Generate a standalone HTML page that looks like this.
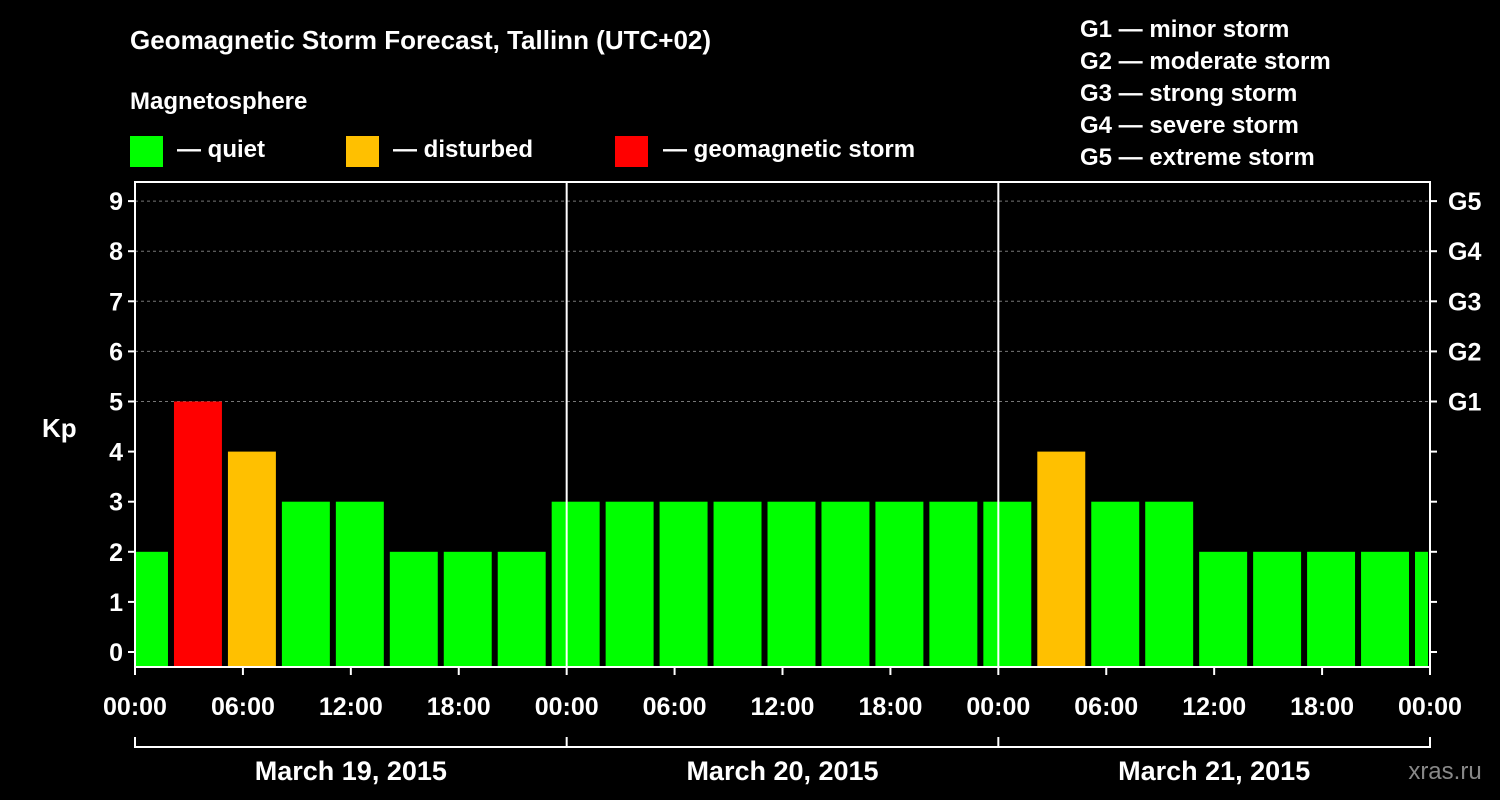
<!DOCTYPE html>
<html><head><meta charset="utf-8"><style>
html,body{margin:0;padding:0;background:#000;}
svg{display:block;font-family:"Liberation Sans",Arial,sans-serif;font-weight:bold;}
</style></head><body>
<svg id="chart" width="1500" height="800" viewBox="0 0 1500 800" xmlns="http://www.w3.org/2000/svg">
<rect width="1500" height="800" fill="#000"/>
<text x="130" y="49" fill="#fff" font-size="26">Geomagnetic Storm Forecast, Tallinn (UTC+02)</text>
<text x="130" y="109" fill="#fff" font-size="24">Magnetosphere</text>
<g><rect x="130" y="136" width="33" height="31" fill="#00ff00"/><text x="177" y="157" fill="#fff" font-size="24">— quiet</text></g>
<g><rect x="346" y="136" width="33" height="31" fill="#ffc000"/><text x="393" y="157" fill="#fff" font-size="24">— disturbed</text></g>
<g><rect x="615" y="136" width="33" height="31" fill="#ff0000"/><text x="663" y="157" fill="#fff" font-size="24">— geomagnetic storm</text></g>
<g fill="#fff" font-size="24">
<text x="1080" y="37">G1 — minor storm</text>
<text x="1080" y="69">G2 — moderate storm</text>
<text x="1080" y="101">G3 — strong storm</text>
<text x="1080" y="133">G4 — severe storm</text>
<text x="1080" y="165">G5 — extreme storm</text>
</g>
<g id="grid"></g>
<g id="bars"></g>
<g id="axes"></g>
<text x="42" y="437" fill="#fff" font-size="26">Kp</text>
<text x="1445" y="779" fill="#888" font-size="24" font-weight="normal" text-anchor="middle">xras.ru</text>
</svg>
<script>
const kpValues=[2,5,4,3,3,2,2,2,3,3,3,3,3,3,3,3,3,4,3,3,2,2,2,2,2];
const slotStartHours=[-1,2,5,8,11,14,17,20,23,26,29,32,35,38,41,44,47,50,53,56,59,62,65,68,71];
const xTickLabels=["00:00","06:00","12:00","18:00","00:00","06:00","12:00","18:00","00:00","06:00","12:00","18:00","00:00"];
const yTickLabels=["0","1","2","3","4","5","6","7","8","9"];
const gLabels=["G1","G2","G3","G4","G5"];
const dayLabels=["March 19, 2015","March 20, 2015","March 21, 2015"];
const NS="http://www.w3.org/2000/svg";
const L=135,R=1430,T=182,B=667;
const xs=h=>L+(R-L)*h/72;
const ys=v=>652-v*50.1;
function mk(tag,attrs,parent,text){const e=document.createElementNS(NS,tag);for(const k in attrs)e.setAttribute(k,attrs[k]);if(text!==undefined)e.textContent=text;parent.appendChild(e);return e;}
const grid=document.getElementById('grid'),bars=document.getElementById('bars'),axes=document.getElementById('axes');
for(let v=5;v<=9;v++){const l=mk('line',{x1:L,x2:R,y1:ys(v),y2:ys(v),stroke:'#777','stroke-dasharray':'3,3','stroke-width':1},grid);

}
kpValues.forEach((v,i)=>{let x0=xs(slotStartHours[i])+3,x1=xs(slotStartHours[i]+3)-3;x0=Math.max(x0,L);x1=Math.min(x1,R-2);
const c=v>=5?'#ff0000':(v>=4?'#ffc000':'#00ff00');
const r=mk('rect',{x:x0,y:ys(v),width:x1-x0,height:B-ys(v),fill:c},bars);

});
const frame=mk('rect',{x:L,y:T,width:R-L,height:B-T,fill:'none',stroke:'#fff','stroke-width':2},axes);


[1,2].forEach(d=>{const l=mk('line',{x1:xs(d*24),x2:xs(d*24),y1:T,y2:B,stroke:'#fff','stroke-width':2},axes);

});
yTickLabels.forEach((t,v)=>{mk('line',{x1:L-7,x2:L,y1:ys(v),y2:ys(v),stroke:'#fff','stroke-width':2},axes);mk('line',{x1:R,x2:R+7,y1:ys(v),y2:ys(v),stroke:'#fff','stroke-width':2},axes);
const tx=mk('text',{x:L-12,y:ys(v)+9,fill:'#fff','font-size':25,'text-anchor':'end'},axes,t);

});
gLabels.forEach((g,i)=>{const tx=mk('text',{x:R+18,y:ys(i+5)+9,fill:'#fff','font-size':25},axes,g);

});
xTickLabels.forEach((t,i)=>{const x=xs(i*6);mk('line',{x1:x,x2:x,y1:B,y2:B+8,stroke:'#fff','stroke-width':2},axes);
const tx=mk('text',{x:x,y:715,fill:'#fff','font-size':25,'text-anchor':'middle'},axes,t);

});
mk('line',{x1:L,x2:R,y1:747,y2:747,stroke:'#fff','stroke-width':2},axes);
[0,1,2,3].forEach(d=>mk('line',{x1:xs(d*24),x2:xs(d*24),y1:737,y2:748,stroke:'#fff','stroke-width':2},axes));
dayLabels.forEach((t,d)=>{const tx=mk('text',{x:xs(d*24+12),y:780,fill:'#fff','font-size':27,'text-anchor':'middle'},axes,t);

});
</script>
</body></html>
